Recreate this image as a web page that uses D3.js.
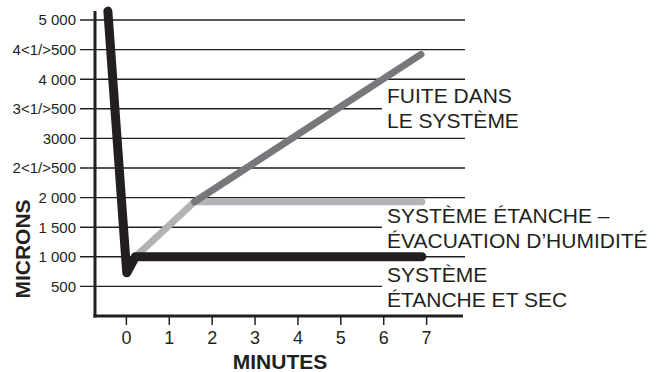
<!DOCTYPE html>
<html><head><meta charset="utf-8">
<script src="https://cdn.jsdelivr.net/npm/d3@7"></script>
<style>body{margin:0;background:#fff}svg{display:block}text{font-family:"Liberation Sans",Arial,sans-serif;fill:#231f20}</style>
</head><body><svg id="c" width="661" height="372"></svg>
<script>
const yTickValues = [500,1000,1500,2000,2500,3000,3500,4000,4500,5000];
const yTickLabels = ["500","1 000","1 500","2 000","2<1/>500","3000","3<1/>500","4 000","4<1/>500","5 000"];
const xTickValues = [0,1,2,3,4,5,6,7];
const shortGrid = [500,1500,3500];
const blackX = [-0.42, 0.02, 0.22, 6.9];
const blackY = [5150, 730, 1000, 1000];
const lightX = [0.22, 1.6, 6.9];
const lightY = [1000, 1930, 1930];
const darkX = [1.6, 6.88];
const darkY = [1930, 4420];
const labels = [
  {lines:["FUITE DANS","LE SYSTÈME"], y:103},
  {lines:["SYSTÈME ÉTANCHE –","ÉVACUATION D’HUMIDITÉ"], y:223},
  {lines:["SYSTÈME","ÉTANCHE ET SEC"], y:282}
];

const svg = d3.select("#c");
const x = d3.scaleLinear().domain([-0.72, 7.86]).range([95, 463]);
const y = d3.scaleLinear().domain([0, 5000]).range([316, 20]);
const ink = "#231f20";

// gridlines
svg.append("g").selectAll("line").data(yTickValues).join("line")
  .attr("x1", 80).attr("x2", d => shortGrid.includes(d) ? 382 : 465)
  .attr("y1", d => y(d)).attr("y2", d => y(d))
  .attr("stroke", ink).attr("stroke-width", 1.4);

// y tick labels
svg.append("g").selectAll("text").data(yTickValues).join("text")
  .attr("x", 76).attr("y", d => y(d)).attr("dy", "0.36em")
  .attr("text-anchor", "end").attr("font-size", 15)
  .text((d,i) => yTickLabels[i]);

// axes lines
svg.append("line").attr("x1", 95).attr("x2", 95).attr("y1", 11).attr("y2", 317.5)
  .attr("stroke", ink).attr("stroke-width", 3);
svg.append("line").attr("x1", 93.5).attr("x2", 463).attr("y1", 316).attr("y2", 316)
  .attr("stroke", ink).attr("stroke-width", 3);

// x axis ticks
const xa = svg.append("g").attr("transform", "translate(0,316)")
  .call(d3.axisBottom(x).tickValues(xTickValues).tickSize(9).tickPadding(6).tickFormat(d3.format("d")));
xa.select(".domain").remove();
xa.selectAll("line").attr("stroke", ink).attr("stroke-width", 1.5);
xa.selectAll("text").attr("font-size", 18).attr("font-family", "Liberation Sans, Arial, sans-serif").attr("fill", ink);

// series
const line = d3.line().x(d => x(d[0])).y(d => y(d[1]));
const mk = (xs, ys) => xs.map((v,i) => [v, ys[i]]);
svg.append("path").attr("d", line(mk(lightX, lightY))).attr("fill","none")
  .attr("stroke", "#b1b3b6").attr("stroke-width", 7).attr("stroke-linecap","round").attr("stroke-linejoin","round");
svg.append("path").attr("d", line(mk(darkX, darkY))).attr("fill","none")
  .attr("stroke", "#77787b").attr("stroke-width", 7).attr("stroke-linecap","round").attr("stroke-linejoin","round");
svg.append("path").attr("d", line(mk(blackX, blackY))).attr("fill","none")
  .attr("stroke", ink).attr("stroke-width", 9).attr("stroke-linecap","round").attr("stroke-linejoin","round");

// annotations
labels.forEach(l => {
  const t = svg.append("text").attr("x", 387).attr("y", l.y).attr("font-size", 21);
  l.lines.forEach((s,i) => t.append("tspan").attr("x", 387).attr("dy", i ? 24.5 : 0).text(s));
});

// axis titles
svg.append("text").attr("x", 280).attr("y", 369).attr("text-anchor","middle")
  .attr("font-size", 21).attr("font-weight","bold").text("MINUTES");
svg.append("text").attr("transform", "translate(30,249) rotate(-90)").attr("text-anchor","middle")
  .attr("font-size", 21).attr("font-weight","bold").text("MICRONS");
</script></body></html>
